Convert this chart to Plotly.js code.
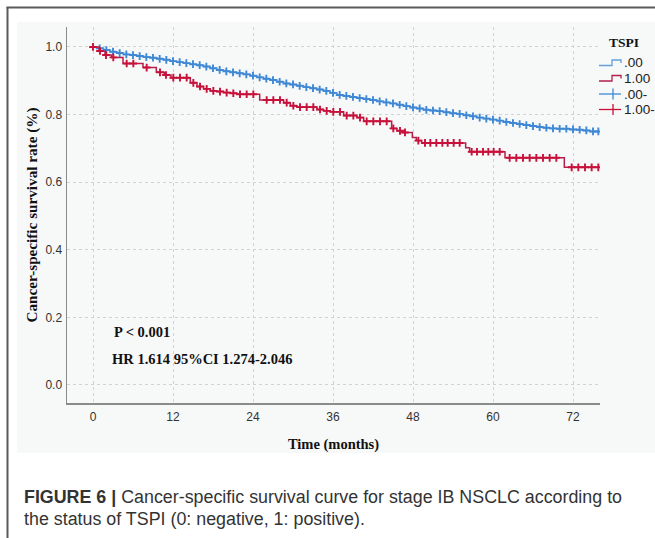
<!DOCTYPE html>
<html><head><meta charset="utf-8">
<script src="https://cdn.plot.ly/plotly-3.0.1.min.js"></script>
<style>html,body{margin:0;padding:0;background:#fff;} #chart{width:655px;height:538px;}</style>
</head><body><div id="chart"></div>
<script>
// ---------------- data ----------------
const blueName = '.00';
const redName = '1.00';
const blueCensorName = '.00-';
const redCensorName = '1.00-';
const legendTitle = 'TSPI';

// TSPI = 0 (negative): step times (months) and survival after each step
const blueTimes = [0,0.6,1.6,2.6,3.6,4.6,5.6,6.6,7.6,8.6,9.6,10.6,11.6,12.6,13.6,14.6,15.6,16.6,17.6,18.6,19.6,
  20.6,21.6,22.6,23.6,24.6,25.6,26.6,27.6,28.6,29.6,30.6,31.6,32.6,33.6,34.6,35.6,36.6,37.6,38.6,39.6,
  40.6,41.6,42.6,43.6,44.6,45.6,46.6,47.6,48.6,49.6,50.6,51.6,52.6,53.6,54.6,55.6,56.6,57.6,58.6,59.6,
  60.6,61.6,62.6,63.6,64.6,65.6,66.6,67.6,68.6,69.6,71.6,72.6,73.6,74.6];
const blueSurv = [1.0,0.996,0.991,0.986,0.982,0.978,0.976,0.973,0.970,0.968,0.965,
  0.962,0.958,0.955,0.952,0.949,0.946,0.942,0.937,0.932,0.928,
  0.925,0.922,0.919,0.915,0.910,0.906,0.902,0.897,0.892,0.889,
  0.885,0.881,0.878,0.874,0.870,0.864,0.858,0.855,0.852,0.849,
  0.846,0.843,0.839,0.836,0.833,0.829,0.825,0.821,0.818,0.814,
  0.812,0.810,0.807,0.804,0.802,0.798,0.795,0.791,0.788,0.785,
  0.782,0.778,0.775,0.772,0.769,0.766,0.763,0.761,0.759,0.758,
  0.756,0.755,0.753,0.750];
const blueCensor = [1,2,3,4,5,6,7,8,9,10,11,12,13,14,15,16,17,18,19,20,21,22,23,24,25,26,27,28,29,30,
  31,32,33,34,35,36,37,38,39,40,41,42,43,44,45,46,47,48,49,50,51,52,53,54,55,56,57,58,59,60,
  61,62,63,64,65,66,67,68,69,70,71,72,73,74,75,75.8];

// TSPI = 1 (positive)
const redTimes = [0,0.9,1.8,2.8,4.5,7.5,9.5,10.7,11.7,14.6,15.6,16.6,17.6,18.6,19.6,20.6,21.6,25.0,
  28.6,29.6,30.6,33.6,34.6,35.6,37.6,39.6,40.6,44.8,45.6,46.5,47.9,48.5,49.3,55.9,56.5,61.8,70.7];
const redSurv = [1.0,0.988,0.976,0.969,0.951,0.939,0.925,0.917,0.909,0.894,0.883,0.876,0.870,0.868,0.865,0.863,0.860,0.843,
  0.835,0.826,0.822,0.815,0.811,0.808,0.797,0.791,0.780,0.759,0.752,0.747,0.732,0.723,0.716,0.702,0.690,0.672,0.644];
const redCensor = [0,1.05,1.95,3.05,5.05,6.05,8.05,10.05,10.95,12.05,13.05,14.05,15.05,16.05,17.05,18.05,19.05,20.05,
  21.05,22.05,23.05,24.05,26.05,27.05,28.05,29.05,30.05,31.05,32.05,33.05,34.05,35.05,36.05,37.05,38.05,39.05,
  40.05,41.05,42.05,43.05,44.05,45.05,46.05,46.8,48.8,49.8,50.6,51.5,52.4,53.2,54.1,55.0,56.8,57.6,58.5,59.3,
  60.1,61.0,62.5,63.5,64.5,65.5,66.5,67.5,68.5,69.5,71.8,72.8,73.8,74.8,75.8];
const followUpEnd = 75.9;

const xTicks = [0,12,24,36,48,60,72];
const yTicks = [0,0.2,0.4,0.6,0.8,1.0];
const yTickText = ['0.0','0.2','0.4','0.6','0.8','1.0'];
const xTitle = 'Time (months)';
const yTitle = 'Cancer-specific survival rate (%)';
const statP = 'P < 0.001';
const statHR = 'HR 1.614 95%CI 1.274-2.046';
const captionBold = 'FIGURE 6 |';
const caption1 = ' Cancer-specific survival curve for stage IB NSCLC according to';
const caption2 = 'the status of TSPI (0: negative, 1: positive).';

// ---------------- drawing ----------------
const BLUE_LINE = '#64a0d8', BLUE_MK = '#3f88d6';
const RED_LINE = '#b3204a', RED_MK = '#c8103a';
const SERIF = 'Liberation Serif, Times New Roman, serif';
const NARROW = 'Liberation Sans Narrow, Arial Narrow, Liberation Sans, Arial, sans-serif';
const SANS = 'Liberation Sans, Arial, Helvetica, sans-serif';

function survAt(times, surv, t) {
  let v = surv[0];
  for (let i = 0; i < times.length; i++) if (times[i] <= t) v = surv[i];
  return v;
}
function stepTrace(times, surv, color) {
  return {x: times.concat([followUpEnd]), y: surv.concat([surv[surv.length-1]]),
    mode: 'lines', line: {shape: 'hv', color: color, width: 1.5}, showlegend: false, hoverinfo: 'skip'};
}
function censorTrace(times, surv, cens, color) {
  return {x: cens, y: cens.map(t => survAt(times, surv, t)), mode: 'markers',
    marker: {symbol: 'cross-thin', size: 5.5, color: color, line: {color: color, width: 1.9}},
    showlegend: false, hoverinfo: 'skip'};
}
const traces = [
  stepTrace(blueTimes, blueSurv, BLUE_LINE),
  censorTrace(blueTimes, blueSurv, blueCensor, BLUE_MK),
  stepTrace(redTimes, redSurv, RED_LINE),
  censorTrace(redTimes, redSurv, redCensor, RED_MK)
];

// pixel -> paper helpers (plot area: x 67..600, y 27..403)
const L = 67, R = 600, T = 27, B = 403;
const px = v => (v - L) / (R - L);
const py = v => (B - v) / (B - T);

const shapes = [
  {type:'rect', xref:'paper', yref:'paper', x0:px(17), x1:px(655), y0:py(453), y1:py(22),
   fillcolor:'#f7f8f8', line:{width:0}, layer:'below'},
  {type:'line', xref:'paper', yref:'paper', x0:px(7.5), x1:px(7.5), y0:py(7), y1:py(540),
   line:{color:'#5a5a5a', width:2}},
  {type:'line', xref:'paper', yref:'paper', x0:px(6.5), x1:px(656), y0:py(7.5), y1:py(7.5),
   line:{color:'#5a5a5a', width:2}}
];
function pathPx(pts) {
  return pts.map((p, i) => (i ? 'L' : 'M') + px(p[0]) + ',' + py(p[1])).join(' ');
}
const legRows = [63, 78.5, 94, 109.5];
// step icons
shapes.push({type:'path', xref:'paper', yref:'paper', line:{color:BLUE_LINE, width:1.3},
  path: pathPx([[599,legRows[0]+2.5],[612,legRows[0]+2.5],[612,legRows[0]-3],[621,legRows[0]-3],[621,legRows[0]]])});
shapes.push({type:'path', xref:'paper', yref:'paper', line:{color:RED_LINE, width:1.3},
  path: pathPx([[599,legRows[1]+2.5],[612,legRows[1]+2.5],[612,legRows[1]-3],[621,legRows[1]-3],[621,legRows[1]]])});
// cross icons
[[legRows[2], BLUE_MK],[legRows[3], RED_MK]].forEach(([yy, c]) => {
  shapes.push({type:'line', xref:'paper', yref:'paper', x0:px(599), x1:px(621), y0:py(yy), y1:py(yy), line:{color:c, width:1.3}});
  shapes.push({type:'line', xref:'paper', yref:'paper', x0:px(613), x1:px(613), y0:py(yy-5.5), y1:py(yy+5.5), line:{color:c, width:1.3}});
});

const annotations = [
  {text: statP, xref:'paper', yref:'paper', x:px(112), y:py(332), xanchor:'left', yanchor:'middle', showarrow:false,
   font:{family:SERIF, size:14.5, color:'#111', weight:'bold'}},
  {text: statHR, xref:'paper', yref:'paper', x:px(110), y:py(359), xanchor:'left', yanchor:'middle', showarrow:false,
   font:{family:SERIF, size:14.5, color:'#111', weight:'bold'}},
  {text: legendTitle, xref:'paper', yref:'paper', x:px(624), y:py(43), xanchor:'center', yanchor:'middle', showarrow:false,
   font:{family:SERIF, size:13.5, color:'#111', weight:'bold'}},
  {text: '<b>' + captionBold + '</b>' + caption1, xref:'paper', yref:'paper', x:px(22), y:py(497), xanchor:'left', yanchor:'middle',
   showarrow:false, align:'left', font:{family:SANS, size:17.85, color:'#333'}},
  {text: caption2, xref:'paper', yref:'paper', x:px(22), y:py(519), xanchor:'left', yanchor:'middle',
   showarrow:false, align:'left', font:{family:SANS, size:17.85, color:'#333'}}
];
[blueName, redName, blueCensorName, redCensorName].forEach((name, i) => {
  annotations.push({text: name, xref:'paper', yref:'paper', x:px(622), y:py(legRows[i]), xanchor:'left', yanchor:'middle',
    showarrow:false, font:{family:NARROW, size:13.5, color:'#222'}});
});

const layout = {
  width: 655, height: 538, autosize: false,
  margin: {l: L, r: 655 - R, t: T, b: 538 - B, pad: 0},
  paper_bgcolor: '#ffffff', plot_bgcolor: '#f7f8f8',
  showlegend: false,
  xaxis: {range: [-3.9, 76.05], tickvals: xTicks, ticktext: xTicks.map(String), ticks: '',
    showgrid: true, gridcolor: '#d2d2d2', griddash: 'dot', gridwidth: 1, zeroline: false,
    showline: true, linecolor: '#8a8a8a', linewidth: 1.5, ticklabelstandoff: 2,
    tickfont: {family: NARROW, size: 12, color: '#333'},
    title: {text: xTitle, standoff: 16, font: {family: SERIF, size: 14.5, color: '#111', weight: 'bold'}}},
  yaxis: {range: [-0.0533, 1.059], tickvals: yTicks, ticktext: yTickText, ticks: '',
    showgrid: true, gridcolor: '#d2d2d2', griddash: 'dot', gridwidth: 1, zeroline: false,
    showline: true, linecolor: '#8a8a8a', linewidth: 1.5, ticklabelstandoff: 1,
    tickfont: {family: NARROW, size: 12, color: '#333'},
    title: {text: yTitle, standoff: 4, font: {family: SERIF, size: 15.2, color: '#111', weight: 'bold'}}},
  shapes: shapes,
  annotations: annotations
};

Plotly.newPlot('chart', traces, layout, {displayModeBar: false, staticPlot: true});
</script>
</body></html>
